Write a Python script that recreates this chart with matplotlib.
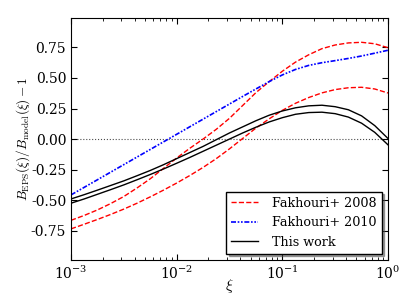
import matplotlib
matplotlib.use("Agg")
import matplotlib.pyplot as plt
import numpy as np

# log10(xi) sample points
log_xi = [-3.0, -2.875, -2.75, -2.625, -2.5, -2.375, -2.25, -2.125, -2.0,
          -1.875, -1.75, -1.625, -1.5, -1.375, -1.25, -1.125, -1.0,
          -0.875, -0.75, -0.625, -0.5, -0.375, -0.25, -0.125, 0.0]

f08_upper = [-0.665, -0.625, -0.58, -0.528, -0.47, -0.40, -0.325, -0.24, -0.155,
             -0.075, 0.0, 0.08, 0.17, 0.275, 0.38, 0.47, 0.555,
             0.63, 0.69, 0.74, 0.77, 0.787, 0.792, 0.78, 0.748]
f08_lower = [-0.735, -0.697, -0.658, -0.617, -0.573, -0.525, -0.473, -0.418, -0.36,
             -0.298, -0.232, -0.16, -0.08, 0.005, 0.09, 0.165, 0.235,
             0.293, 0.34, 0.378, 0.405, 0.42, 0.424, 0.41, 0.377]
f10 = [-0.457, -0.395, -0.333, -0.271, -0.209, -0.147, -0.085, -0.023, 0.039,
       0.101, 0.163, 0.225, 0.287, 0.349, 0.41, 0.47, 0.525,
       0.57, 0.603, 0.625, 0.642, 0.66, 0.68, 0.703, 0.727]
this_upper = [-0.49, -0.455, -0.418, -0.38, -0.342, -0.30, -0.257, -0.21, -0.16,
              -0.11, -0.06, -0.005, 0.05, 0.10, 0.15, 0.195, 0.23,
              0.256, 0.272, 0.277, 0.265, 0.24, 0.19, 0.11, 0.005]
this_lower = [-0.525, -0.49, -0.452, -0.414, -0.375, -0.333, -0.29, -0.245, -0.198,
              -0.15, -0.10, -0.05, 0.0, 0.05, 0.097, 0.14, 0.175,
              0.203, 0.217, 0.22, 0.208, 0.18, 0.13, 0.055, -0.047]

plt.rcParams["font.family"] = "DejaVu Serif"
plt.rcParams["mathtext.fontset"] = "cm"
plt.rcParams["xtick.direction"] = "in"
plt.rcParams["ytick.direction"] = "in"

xi = 10 ** np.array(log_xi)

fig = plt.figure(figsize=(4.09, 3.07), dpi=100)
ax = fig.add_axes([0.1736, 0.153, 0.775, 0.788])

ax.axhline(0.0, color="k", ls=":", lw=0.8, alpha=0.7)
ax.plot(xi, f08_upper, "r--", lw=1, label="Fakhouri+ 2008")
ax.plot(xi, f08_lower, "r--", lw=1)
ax.plot(xi, f10, color="b", ls=(0, (3, 1, 1, 1, 1, 1)), lw=1.2, label="Fakhouri+ 2010")
ax.plot(xi, this_upper, "k-", lw=1, label="This work")
ax.plot(xi, this_lower, "k-", lw=1)

ax.set_xscale("log")
ax.set_xlim(1e-3, 1.0)
ax.set_ylim(-0.99, 0.99)
ax.set_yticks([-0.75, -0.5, -0.25, 0.0, 0.25, 0.5, 0.75])
ax.yaxis.set_major_formatter(plt.FormatStrFormatter("%.2f"))
ax.tick_params(which="both", top=True, right=True, labelsize=10)
ax.tick_params(which="major", length=4)
ax.tick_params(which="minor", length=2)

ax.set_xlabel(r"$\xi$", fontsize=11, labelpad=-4)
ax.set_ylabel(r"$B_{\rm EPS}(\xi)/B_{\rm model}(\xi)-1$", fontsize=9.5, labelpad=-1)

leg = ax.legend(loc="lower right", fontsize=9.2, fancybox=False, shadow=True,
                handlelength=2.1, handletextpad=1.1, borderaxespad=0.5)
leg.get_frame().set_edgecolor("k")

fig.savefig("out.png", dpi=100)
